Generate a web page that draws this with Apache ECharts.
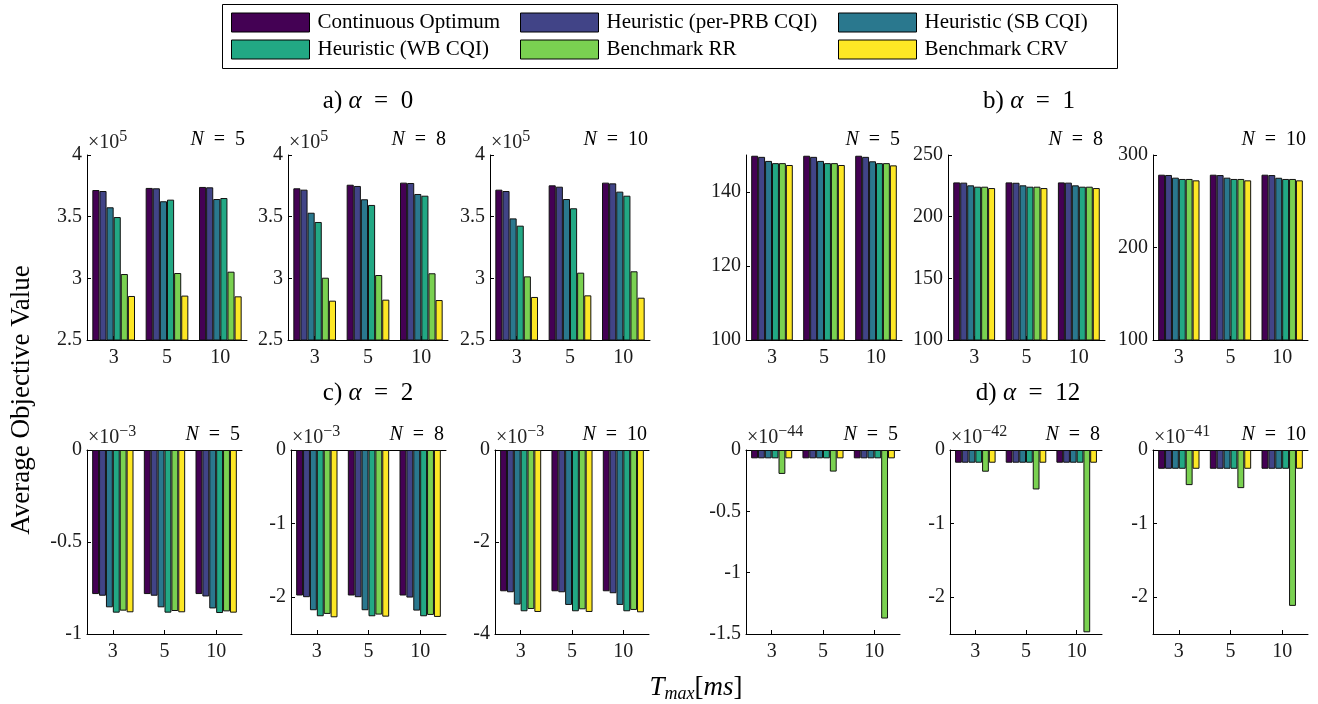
<!DOCTYPE html>
<html>
<head>
<meta charset="utf-8">
<script src="https://cdn.jsdelivr.net/npm/echarts@6/dist/echarts.min.js"></script>
<style>html,body{margin:0;padding:0;background:#fff}#c{width:1318px;height:704px}</style>
</head>
<body>
<div id="c"></div>
<script>
// ---------------- DATA ----------------
const categories = ['3', '5', '10'];
const seriesNames = ['Continuous Optimum', 'Heuristic (per-PRB CQI)', 'Heuristic (SB CQI)',
                     'Heuristic (WB CQI)', 'Benchmark RR', 'Benchmark CRV'];
const colors = ['#440154', '#414487', '#2A788E', '#22A884', '#7AD151', '#FDE725'];

// alpha = 0 (values in units of 1e5); rows = series, cols = T_max 3,5,10
const a0_N5 = [[3.716,3.733,3.741],[3.708,3.730,3.738],[3.576,3.625,3.643],[3.497,3.638,3.651],[3.035,3.043,3.054],[2.857,2.860,2.854]];
const a0_N8 = [[3.730,3.759,3.776],[3.719,3.749,3.773],[3.532,3.641,3.684],[3.457,3.595,3.670],[3.005,3.027,3.041],[2.819,2.827,2.824]];
const a0_N10 = [[3.719,3.754,3.776],[3.708,3.743,3.770],[3.486,3.643,3.703],[3.427,3.568,3.670],[3.016,3.046,3.057],[2.849,2.862,2.843]];
// alpha = 1
const a1_N5 = [[149.8,149.8,149.8],[149.5,149.5,149.5],[148.4,148.4,148.3],[147.8,147.8,147.8],[147.8,147.8,147.8],[147.3,147.3,147.2]];
const a1_N8 = [[227.8,227.8,227.8],[227.6,227.5,227.6],[225.4,225.4,225.4],[224.3,224.3,224.3],[224.3,224.3,224.3],[223.2,223.2,223.2]];
const a1_N10 = [[278.7,278.7,278.7],[278.4,278.3,278.3],[275.5,275.5,275.4],[274.1,274.1,274.1],[274.1,274.1,274.1],[272.6,272.6,272.6]];
// alpha = 2 (units of 1e-3)
const a2_N5 = [[-0.783,-0.783,-0.783],[-0.792,-0.792,-0.796],[-0.855,-0.855,-0.861],[-0.884,-0.884,-0.886],[-0.873,-0.875,-0.877],[-0.882,-0.882,-0.884]];
const a2_N8 = [[-1.977,-1.977,-1.977],[-2.000,-2.000,-2.005],[-2.177,-2.177,-2.182],[-2.259,-2.259,-2.259],[-2.227,-2.236,-2.241],[-2.273,-2.264,-2.268]];
const a2_N10 = [[-3.071,-3.071,-3.071],[-3.093,-3.093,-3.114],[-3.361,-3.368,-3.368],[-3.506,-3.506,-3.506],[-3.456,-3.463,-3.477],[-3.521,-3.521,-3.528]];
// alpha = 12 (units of 1e-44, 1e-42, 1e-41)
const a12_N5 = [[-0.068,-0.068,-0.068],[-0.068,-0.068,-0.068],[-0.068,-0.068,-0.068],[-0.068,-0.068,-0.068],[-0.195,-0.176,-1.374],[-0.068,-0.068,-0.068]];
const a12_N8 = [[-0.173,-0.173,-0.173],[-0.173,-0.173,-0.173],[-0.173,-0.173,-0.173],[-0.173,-0.173,-0.173],[-0.295,-0.536,-2.477],[-0.173,-0.173,-0.173]];
const a12_N10 = [[-0.255,-0.255,-0.255],[-0.255,-0.255,-0.255],[-0.255,-0.255,-0.255],[-0.255,-0.255,-0.255],[-0.477,-0.518,-2.118],[-0.255,-0.255,-0.255]];

// axis ranges and tick labels
const yRange = [[2.5,4],[2.5,4],[2.5,4],[100,150],[100,250],[100,300],
                [-1,0],[-2.5,0],[-4,0],[-1.5,0],[-2.5,0],[-2.5,0]];
const yTicks = [[2.5,3,3.5,4],[2.5,3,3.5,4],[2.5,3,3.5,4],[100,120,140],[100,150,200,250],[100,200,300],
                [-1,-0.5,0],[-2,-1,0],[-4,-2,0],[-1.5,-1,-0.5,0],[-2,-1,0],[-2,-1,0]];
const exponents = ['5','5','5',null,null,null,'−3','−3','−3','−44','−42','−41'];
const nValues = ['5','8','10','5','8','10','5','8','10','5','8','10'];
const titlePrefixes = ['a)', 'b)', 'c)', 'd)'];
const alphaValues = ['0', '1', '2', '12'];
const panelData = [a0_N5, a0_N8, a0_N10, a1_N5, a1_N8, a1_N10, a2_N5, a2_N8, a2_N10, a12_N5, a12_N8, a12_N10];

// ---------------- LAYOUT ----------------
const FONT = '"Liberation Serif", "DejaVu Serif", serif';
const SP = '\u2002';
const gridBoxes = [
  [87,155,160,185],[288,155,160,185],[490,155,160,185],[746,155,156,185],[948,155,157,185],[1153,155,155,185],
  [87,450,155,184],[291,450,155,184],[495,450,154,184],[746,450,154,184],[950,450,152,184],[1153,450,155,184]
];

const grid = [], xAxis = [], yAxis = [], series = [], graphic = [];
gridBoxes.forEach((b, p) => {
  grid.push({left: b[0], top: b[1], width: b[2], height: b[3]});
  xAxis.push({
    type: 'category', gridIndex: p, data: categories, position: 'bottom',
    axisLine: {onZero: false, lineStyle: {color: '#000', width: 1}},
    axisTick: {show: true, inside: true, alignWithLabel: true, length: 4, lineStyle: {color: '#000'}},
    axisLabel: {color: '#1a1a1a', fontFamily: FONT, fontSize: 20, margin: 8}
  });
  yAxis.push({
    type: 'value', gridIndex: p, min: yRange[p][0], max: yRange[p][1],
    axisLine: {show: true, onZero: false, lineStyle: {color: '#000', width: 1}},
    axisTick: {show: true, inside: true, length: 4, customValues: yTicks[p], lineStyle: {color: '#000'}},
    axisLabel: {customValues: yTicks[p], color: '#1a1a1a', fontFamily: FONT, fontSize: 20, margin: 5},
    splitLine: {show: false}
  });
  panelData[p].forEach((vals, k) => {
    series.push({
      type: 'bar', name: seriesNames[k], xAxisIndex: p, yAxisIndex: p, data: vals,
      barGap: '0%', barCategoryGap: '20%',
      itemStyle: {color: colors[k], borderColor: '#111', borderWidth: 1},
      emphasis: {disabled: true}, animation: false
    });
  });
  // N label
  graphic.push({
    type: 'text', x: b[0] + b[2] - 2, y: b[1] - 15,
    style: {text: '{i|N}' + SP + '=' + SP + nValues[p], align: 'right', verticalAlign: 'middle',
      fontFamily: FONT, fontSize: 20, fill: '#000', rich: {i: {fontStyle: 'italic', fontFamily: FONT, fontSize: 20}}}
  });
  if (exponents[p]) {
    graphic.push({
      type: 'text', x: b[0] + 1, y: b[1] - 14,
      style: {text: '{a|×10}{s|' + exponents[p] + '}', align: 'left', verticalAlign: 'middle', fill: '#222',
        rich: {a: {fontFamily: FONT, fontSize: 20, lineHeight: 24, verticalAlign: 'bottom'},
               s: {fontFamily: FONT, fontSize: 16, lineHeight: 24, verticalAlign: 'top'}}}
    });
  }
});
// baselines at zero for lower row
for (let p = 6; p < 12; p++) {
  xAxis.push({
    type: 'category', gridIndex: p, data: categories, position: 'top',
    axisLine: {onZero: false, lineStyle: {color: '#000', width: 1}},
    axisTick: {show: false}, axisLabel: {show: false}
  });
}

// panel titles
[[368, 101], [1029, 101], [368, 393], [1028, 393]].forEach((t, i) => {
  graphic.push({
    type: 'text', x: t[0], y: t[1],
    style: {text: titlePrefixes[i] + ' {i|α}' + SP + '=' + SP + alphaValues[i], align: 'center', verticalAlign: 'middle',
      fontFamily: FONT, fontSize: 25, fill: '#000', rich: {i: {fontStyle: 'italic', fontFamily: FONT, fontSize: 25}}}
  });
});
// axis titles
graphic.push({
  type: 'text', x: 22, y: 400, rotation: Math.PI / 2,
  style: {text: 'Average Objective Value', align: 'center', verticalAlign: 'middle', fontFamily: FONT, fontSize: 27, fill: '#000'}
});
graphic.push({
  type: 'text', x: 696, y: 688,
  style: {text: '{i|T}{s|max}[{i|ms}]', align: 'center', verticalAlign: 'middle', fill: '#000', fontFamily: FONT, fontSize: 27,
    rich: {i: {fontStyle: 'italic', fontFamily: FONT, fontSize: 27, lineHeight: 30},
           s: {fontStyle: 'italic', fontFamily: FONT, fontSize: 18, lineHeight: 30, verticalAlign: 'bottom'}}}
});
// legend box
graphic.push({
  type: 'rect', z: -10, shape: {x: 222.5, y: 4.5, width: 895, height: 64},
  style: {fill: 'none', stroke: '#000', lineWidth: 1}
});

const legendPos = [[231, 12], [520, 12], [838, 12], [231, 39], [520, 39], [838, 39]];
const legend = legendPos.map((pos, k) => ({
  left: pos[0], top: pos[1], itemWidth: 78, itemHeight: 19, selectedMode: false, icon: 'rect',
  data: [{name: seriesNames[k], itemStyle: {color: colors[k], borderColor: '#000', borderWidth: 1}}],
  textStyle: {fontFamily: FONT, fontSize: 21, color: '#000', padding: [0, 0, 0, 3]},
  padding: 0
}));

const chart = echarts.init(document.getElementById('c'), null, {renderer: 'canvas'});
chart.setOption({
  animation: false, backgroundColor: '#fff',
  grid, xAxis, yAxis, series, legend, graphic
});
</script>
</body>
</html>
